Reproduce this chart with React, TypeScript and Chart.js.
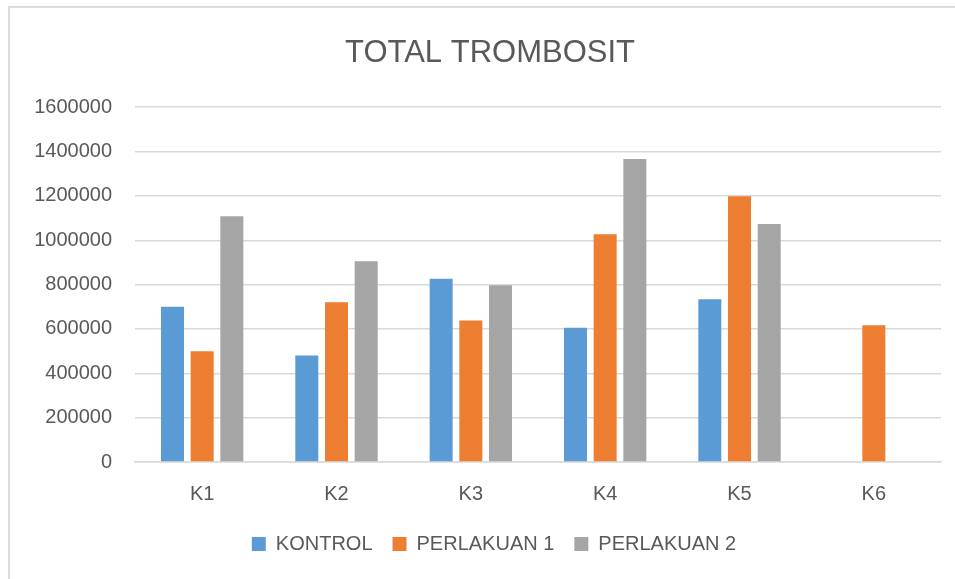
import React, { useEffect, useRef } from "react";
import { Chart, registerables } from "chart.js";

Chart.register(...registerables);

const categories = ["K1", "K2", "K3", "K4", "K5", "K6"];
const kontrol = [700000, 480000, 826000, 605000, 734000, null];
const perlakuan1 = [500000, 720000, 638000, 1027000, 1198000, 617000];
const perlakuan2 = [1108000, 905000, 797000, 1366000, 1073000, null];
const yTicks = [0, 200000, 400000, 600000, 800000, 1000000, 1200000, 1400000, 1600000];

const TEXT = "#595959";
const GRID = "#D9D9D9";
const FONT = "'Liberation Sans', Arial, sans-serif";

const centerShift = {
  id: "centerShift",
  afterLayout(chart: any) {
    if (chart.titleBlock) chart.titleBlock.left = 29;
    if (chart.legend) chart.legend.left = 37;
  },
};

export default function App() {
  const ref = useRef<HTMLCanvasElement | null>(null);

  useEffect(() => {
    if (!ref.current) return;
    const chart = new Chart(ref.current, {
      type: "bar",
      data: {
        labels: categories,
        datasets: [
          { label: "KONTROL", data: kontrol, backgroundColor: "#5B9BD5", borderWidth: 0 },
          { label: "PERLAKUAN 1", data: perlakuan1, backgroundColor: "#ED7D31", borderWidth: 0 },
          { label: "PERLAKUAN 2", data: perlakuan2, backgroundColor: "#A5A5A5", borderWidth: 0 },
        ],
      },
      plugins: [centerShift],
      options: {
        responsive: false,
        animation: false,
        layout: { padding: { left: 16, right: 14, top: 0, bottom: 15 } },
        datasets: { bar: { categoryPercentage: 0.663, barPercentage: 0.775 } },
        plugins: {
          title: {
            display: true,
            text: "TOTAL TROMBOSIT",
            color: TEXT,
            font: { family: FONT, size: 31, weight: "normal" },
            padding: { top: 27, bottom: 35 },
          },
          legend: {
            position: "bottom",
            labels: {
              color: TEXT,
              font: { family: FONT, size: 20 },
              boxWidth: 14,
              boxHeight: 14,
              padding: 20,
            },
          },
          tooltip: { enabled: false },
        },
        scales: {
          x: {
            grid: { display: false, drawTicks: false },
            border: { display: true, color: GRID, width: 1.5 },
            ticks: { color: TEXT, font: { family: FONT, size: 20 }, padding: 20 },
            afterFit: (s: any) => {
              s.height = 52;
            },
          },
          y: {
            min: 0,
            max: 1600000,
            afterBuildTicks: (s: any) => {
              s.ticks = yTicks.map((v) => ({ value: v }));
            },
            grid: { color: GRID, lineWidth: 1.5, drawTicks: false },
            border: { display: false },
            ticks: {
              color: TEXT,
              font: { family: FONT, size: 20 },
              padding: 23,
              callback: (v: any) => String(v),
            },
            afterFit: (s: any) => {
              s.width = 109;
            },
          },
        },
      },
    });
    return () => chart.destroy();
  }, []);

  return (
    <div
      style={{
        position: "absolute",
        left: 8,
        top: 6,
        width: 945,
        height: 571,
        borderLeft: "2px solid #DCDCDC",
        borderTop: "2px solid #DCDCDC",
        background: "#fff",
      }}
    >
      <canvas ref={ref} width={945} height={571} style={{ display: "block" }} />
    </div>
  );
}
